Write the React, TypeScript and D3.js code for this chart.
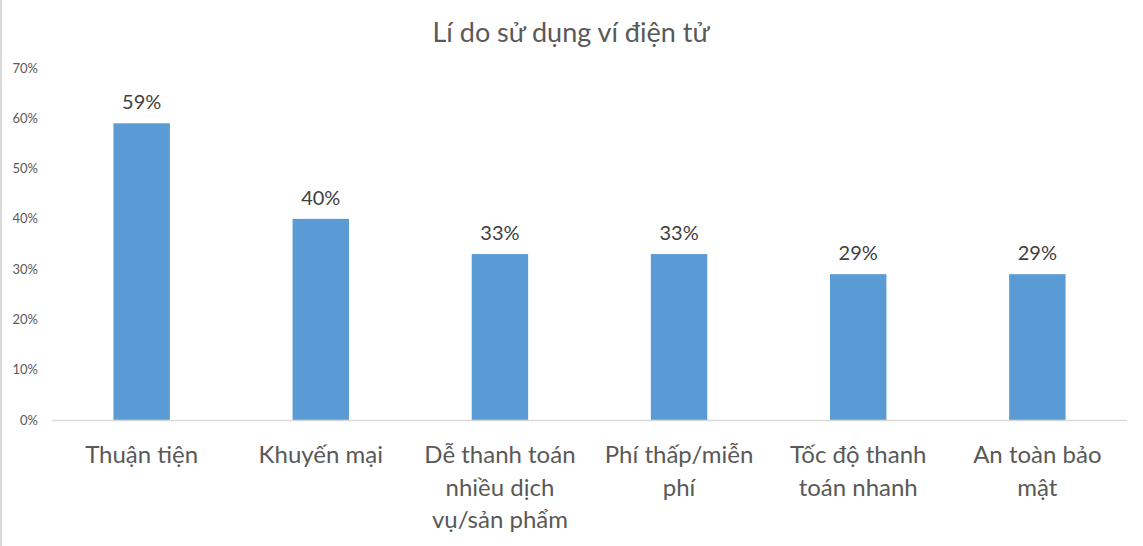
import React, { useRef, useEffect } from 'react';
import * as d3 from 'd3';

const categories = ['Thuận tiện', 'Khuyến mại', 'Dễ thanh toán nhiều dịch vụ/sản phẩm', 'Phí thấp/miễn phí', 'Tốc độ thanh toán nhanh', 'An toàn bảo mật'];
const categoryLines = [
  ['Thuận tiện'],
  ['Khuyến mại'],
  ['Dễ thanh toán', 'nhiều dịch', 'vụ/sản phẩm'],
  ['Phí thấp/miễn', 'phí'],
  ['Tốc độ thanh', 'toán nhanh'],
  ['An toàn bảo', 'mật'],
];
const values = [0.59, 0.40, 0.33, 0.33, 0.29, 0.29];
const yTicks = [0, 0.1, 0.2, 0.3, 0.4, 0.5, 0.6, 0.7];
const title = 'Lí do sử dụng ví điện tử';

const W = 1143;
const H = 546;
const FONT = 'Lato, "Open Sans", sans-serif';
const TEXT = '#595959';

const App: React.FC = () => {
  const svgRef = useRef<SVGSVGElement | null>(null);

  useEffect(() => {
    const svg = d3.select(svgRef.current);
    svg.selectAll('*').remove();

    const margin = { top: 68, right: 16, bottom: 126, left: 52 };
    const width = W - margin.left - margin.right;
    const height = H - margin.top - margin.bottom;

    svg.append('rect').attr('width', W).attr('height', H).attr('fill', '#fff');
    // left border of the chart frame
    svg.append('line')
      .attr('x1', 1).attr('x2', 1).attr('y1', 0).attr('y2', H)
      .attr('stroke', '#d9d9d9').attr('stroke-width', 2);

    svg.append('text')
      .attr('x', 571).attr('y', 42)
      .attr('text-anchor', 'middle')
      .attr('fill', TEXT)
      .attr('font-family', FONT)
      .attr('font-size', '27px')
      .text(title);

    const g = svg.append('g').attr('transform', `translate(${margin.left},${margin.top})`);

    const x = d3.scaleBand().domain(categories).range([0, width]).paddingInner(0.685).paddingOuter(0.343);
    const y = d3.scaleLinear().domain([0, 0.7]).range([height, 0]);

    // y tick labels
    g.append('g')
      .selectAll('text')
      .data(yTicks)
      .enter()
      .append('text')
      .attr('x', -14)
      .attr('y', d => y(d))
      .attr('dy', '0.35em')
      .attr('text-anchor', 'end')
      .attr('fill', TEXT)
      .attr('font-family', FONT)
      .attr('font-size', '13px')
      .text(d => d3.format('.0%')(d));

    // bars
    g.selectAll('.bar')
      .data(values)
      .enter()
      .append('rect')
      .attr('class', 'bar')
      .attr('x', (_, i) => x(categories[i])!)
      .attr('y', d => y(d))
      .attr('width', x.bandwidth())
      .attr('height', d => height - y(d))
      .attr('fill', '#5b9bd5');

    // baseline
    g.append('line')
      .attr('x1', 0).attr('x2', width)
      .attr('y1', height + 0.5).attr('y2', height + 0.5)
      .attr('stroke', '#d9d9d9').attr('stroke-width', 1.5);

    // data labels
    g.selectAll('.label')
      .data(values)
      .enter()
      .append('text')
      .attr('class', 'label')
      .attr('x', (_, i) => x(categories[i])! + x.bandwidth() / 2)
      .attr('y', d => y(d) - 14)
      .attr('text-anchor', 'middle')
      .attr('fill', '#404040')
      .attr('font-family', FONT)
      .attr('font-size', '20px')
      .text(d => d3.format('.0%')(d));

    // category labels
    categories.forEach((c, i) => {
      const t = g.append('text')
        .attr('text-anchor', 'middle')
        .attr('fill', TEXT)
        .attr('font-family', FONT)
        .attr('font-size', '24px');
      categoryLines[i].forEach((line, j) => {
        t.append('tspan')
          .attr('x', x(c)! + x.bandwidth() / 2)
          .attr('y', height + 43 + j * 32.5)
          .text(line);
      });
    });
  }, []);

  return (
    <div style={{ position: 'fixed', left: 0, top: 0, width: W, height: H, background: '#fff' }}>
      <svg ref={svgRef} width={W} height={H} style={{ display: 'block' }}></svg>
    </div>
  );
};

export default App;
